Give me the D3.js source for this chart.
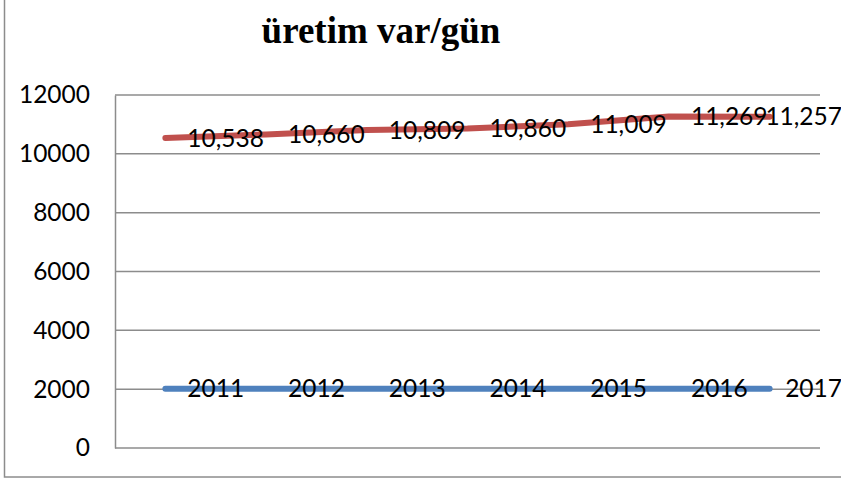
<!DOCTYPE html>
<html>
<head>
<meta charset="utf-8">
<script src="https://cdn.jsdelivr.net/npm/d3@7"></script>
<style>
  body { margin: 0; background: #fff; }
  svg { display: block; }
</style>
</head>
<body>
<script>
// chart values
var categories = ["1", "2", "3", "4", "5", "6", "7"];
var uretim = [10538, 10660, 10809, 10860, 11009, 11269, 11257];
var yillar = [2011, 2012, 2013, 2014, 2015, 2016, 2017];
var yTicks = [0, 2000, 4000, 6000, 8000, 10000, 12000];
var title = "üretim var/gün";

var width = 841, height = 479;
var plot = {left: 115, right: 820, top: 95, bottom: 448};
var labelFont = "Lato, sans-serif", labelSize = 24.5;

var svg = d3.select("body").append("svg")
  .attr("width", width)
  .attr("height", height);

// outer chart border (cropped on top / right)
svg.append("rect")
  .attr("x", 4.5).attr("y", -5)
  .attr("width", width + 10).attr("height", 482)
  .attr("fill", "none")
  .attr("stroke", "#8c8c8c")
  .attr("stroke-width", 1.5);

var x = d3.scaleBand()
  .domain(categories)
  .range([plot.left, plot.right]);

var y = d3.scaleLinear()
  .domain([0, 12000])
  .range([plot.bottom, plot.top]);

// gridlines
svg.append("g")
  .selectAll("line")
  .data(yTicks)
  .join("line")
  .attr("x1", plot.left).attr("x2", plot.right)
  .attr("y1", d => y(d)).attr("y2", d => y(d))
  .attr("stroke", "#8c8c8c")
  .attr("stroke-width", 1.5);

// value axis
var yAxis = svg.append("g")
  .attr("transform", "translate(" + plot.left + ",0)")
  .call(d3.axisLeft(y).tickValues(yTicks).tickSize(0).tickPadding(25).tickFormat(d3.format("d")));
yAxis.select(".domain").attr("stroke", "#8c8c8c").attr("stroke-width", 1.5);
yAxis.selectAll("text")
  .attr("font-family", labelFont)
  .attr("font-size", labelSize)
  .attr("fill", "#000");

// title
svg.append("text")
  .attr("x", 381).attr("y", 43)
  .attr("text-anchor", "middle")
  .attr("font-family", "'Liberation Serif', 'Times New Roman', serif")
  .attr("font-weight", "bold")
  .attr("font-size", 37)
  .text(title);

var cx = function(i) { return x(categories[i]) + x.bandwidth() / 2; };

var line = d3.line()
  .x((d, i) => cx(i))
  .y(d => y(d));

function series(values, color, fmt) {
  svg.append("path")
    .datum(values)
    .attr("d", line)
    .attr("fill", "none")
    .attr("stroke", color)
    .attr("stroke-width", 6)
    .attr("stroke-linecap", "round")
    .attr("stroke-linejoin", "round");

  svg.append("g")
    .selectAll("text")
    .data(values)
    .join("text")
    .attr("x", (d, i) => cx(i) + 22)
    .attr("y", d => y(d))
    .attr("dy", "0.35em")
    .attr("font-family", labelFont)
    .attr("font-size", labelSize)
    .attr("fill", "#000")
    .text(d => fmt(d))
    .each(function() {
      // keep labels inside the chart area
      var w = this.getComputedTextLength();
      var lx = +this.getAttribute("x");
      if (lx + w > 842) this.setAttribute("x", 842 - w);
    });
}

series(uretim, "#C0504D", d3.format(","));
series(yillar, "#4F81BD", d3.format("d"));
</script>
</body>
</html>
